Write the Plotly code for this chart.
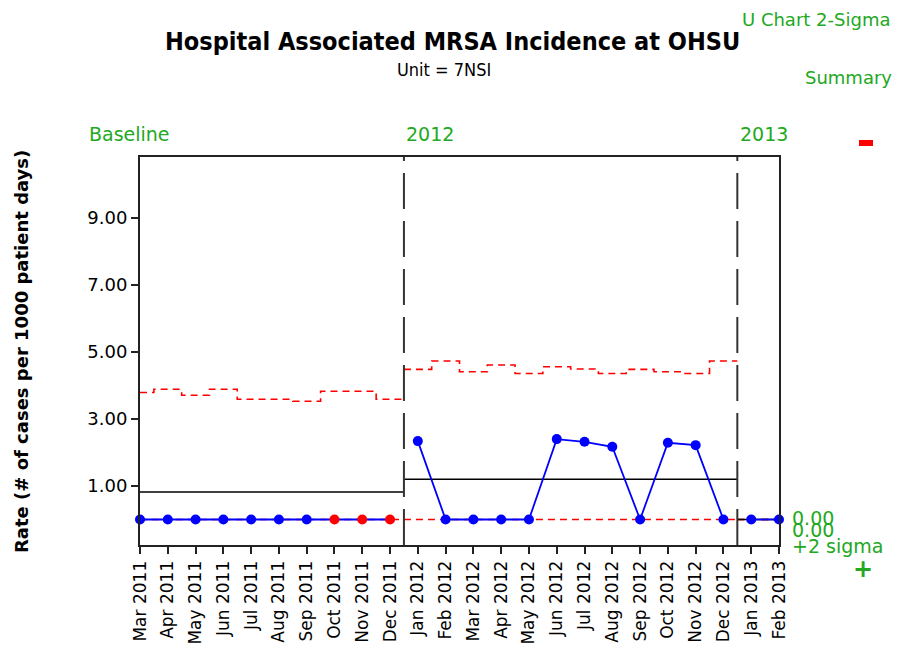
import plotly.graph_objects as go

months = ["Mar 2011", "Apr 2011", "May 2011", "Jun 2011", "Jul 2011", "Aug 2011",
          "Sep 2011", "Oct 2011", "Nov 2011", "Dec 2011",
          "Jan 2012", "Feb 2012", "Mar 2012", "Apr 2012", "May 2012", "Jun 2012",
          "Jul 2012", "Aug 2012", "Sep 2012", "Oct 2012", "Nov 2012", "Dec 2012",
          "Jan 2013", "Feb 2013"]
rates = [0, 0, 0, 0, 0, 0, 0, 0, 0, 0,
         2.34, 0, 0, 0, 0, 2.40, 2.32, 2.17, 0, 2.29, 2.22, 0,
         0, 0]
ucl = [3.79, 3.89, 3.71, 3.89, 3.59, 3.59, 3.53, 3.83, 3.83, 3.59,
       4.48, 4.73, 4.41, 4.61, 4.36, 4.56, 4.49, 4.36, 4.48, 4.41, 4.36, 4.73,
       0, 0]
lcl = [0] * 24
flagged = [False] * 7 + [True] * 3 + [False] * 14
segment_names = ["Baseline", "2012", "2013"]
segment_start = [0, 10, 22]
segment_end = [9, 21, 23]
segment_cl = [0.82, 1.20, 0.0]
y_ticks = [1, 3, 5, 7, 9]

# page has an 8px body margin; size the figure so the page does not scroll
OFF = 8
W, H = 900 - 2 * OFF, 653 - 2 * OFF
L, R, T, B = 140, 779, 157, 545          # plot area in window pixels
Y0, Y1 = -0.761, 10.82
XMAX = len(months) - 1

def px(x, y):
    return (x - L) / (R - L), (B - y) / (B - T)

fig = go.Figure()

def step_xy(i0, i1, vals):
    lo = max(i0 - 0.5, 0)
    hi = min(i1 + 0.5, XMAX)
    xs, ys = [], []
    for i in range(i0, i1 + 1):
        a = max(i - 0.5, lo)
        b = min(i + 0.5, hi)
        xs += [a, b]
        ys += [vals[i], vals[i]]
    return xs, ys

for s in range(3):
    i0, i1 = segment_start[s], segment_end[s]
    lo = max(i0 - 0.5, 0)
    hi = min(i1 + 0.5, XMAX)
    xs, ys = step_xy(i0, i1, ucl)
    fig.add_trace(go.Scatter(x=xs, y=ys, mode="lines",
                             line=dict(color="#FF0000", width=1.6, dash="7px,5px"),
                             hoverinfo="skip", showlegend=False, cliponaxis=False))
    xs, ys = step_xy(i0, i1, lcl)
    fig.add_trace(go.Scatter(x=xs, y=ys, mode="lines",
                             line=dict(color="#FF0000", width=1.6, dash="7px,5px"),
                             hoverinfo="skip", showlegend=False, cliponaxis=False))
    fig.add_trace(go.Scatter(x=[lo, hi], y=[segment_cl[s]] * 2, mode="lines",
                             line=dict(color="#000000", width=1.6),
                             hoverinfo="skip", showlegend=False, cliponaxis=False))

for s in range(3):
    i0, i1 = segment_start[s], segment_end[s]
    idx = list(range(i0, i1 + 1))
    fig.add_trace(go.Scatter(
        x=idx, y=[rates[i] for i in idx], mode="lines+markers",
        line=dict(color="#0000FF", width=1.8),
        marker=dict(size=10, color=["#FF0000" if flagged[i] else "#0000FF" for i in idx]),
        text=[months[i] for i in idx], showlegend=False, cliponaxis=False))

for s in range(1, 3):
    xb = segment_start[s] - 0.5
    fig.add_shape(type="line", x0=xb, x1=xb, y0=0, y1=1, xref="x", yref="paper",
                  line=dict(color="#333333", width=2, dash="36px,12px"))

green = "#22A822"
SANS = "DejaVu Sans, Verdana, sans-serif"
gfont = dict(family=SANS, size=19, color=green)
gfont_s = dict(family=SANS, size=18, color=green)

def ann(text, x, y, xanchor="left", font=gfont, **kw):
    ax, ay = px(x, y)
    fig.add_annotation(text=text, x=ax, y=ay, xref="paper", yref="paper",
                       xanchor=xanchor, yanchor="middle", showarrow=False,
                       font=font, **kw)

ann(segment_names[0], 87, 134)
ann(segment_names[1], 404, 134)
ann(segment_names[2], 738, 134)
ann("U Chart 2-Sigma", 740, 20, font=gfont_s)
ann("Summary", 803, 77, font=gfont_s)
ann("0.00", 790, 518)
ann("0.00", 790, 530)
ann("+2 sigma", 790, 546)
ann("<b>+</b>", 863, 569, xanchor="center",
    font=dict(family=SANS, size=24, color=green))

# red summary bar
x0, y0 = px(859, 140)
x1, y1 = px(873, 146)
fig.add_shape(type="rect", xref="paper", yref="paper", x0=x0, x1=x1, y0=y1, y1=y0,
              fillcolor="#FF0000", line=dict(width=0))

ann("<b>Hospital Associated MRSA Incidence at OHSU</b>", 452, 42, xanchor="center",
    font=dict(family="Liberation Sans Narrow, Arial Narrow, DejaVu Sans Condensed, sans-serif",
              size=25, color="#000000"))
ann("Unit = 7NSI", 444, 70, xanchor="center",
    font=dict(family="Liberation Sans Narrow, Arial Narrow, DejaVu Sans Condensed, sans-serif",
              size=18, color="#000000"))
ann("<b>Rate (# of cases per 1000 patient days)</b>", 21, 352, xanchor="center",
    font=dict(family=SANS, size=18, color="#000000"), textangle=-90)

fig.update_layout(
    width=W, height=H,
    margin=dict(l=L - OFF, r=W - (R - OFF), t=T - OFF, b=H - (B - OFF), autoexpand=False),
    paper_bgcolor="white", plot_bgcolor="white",
    font=dict(family=SANS, color="#000000"),
    showlegend=False,
)
fig.update_xaxes(range=[0, XMAX], tickmode="array", tickvals=list(range(len(months))),
                 ticktext=months, tickangle=-90, ticks="outside", ticklen=7,
                 tickwidth=2, tickcolor="#222222", showgrid=False, zeroline=False,
                 showline=True, mirror=True, linewidth=2, linecolor="#222222",
                 automargin=False,
                 tickfont=dict(size=17, family=SANS))
fig.update_yaxes(range=[Y0, Y1], tickmode="array", tickvals=y_ticks,
                 ticktext=[f"{v:.2f}" for v in y_ticks], ticks="outside", ticklen=7,
                 tickwidth=2, tickcolor="#222222", showgrid=False, zeroline=False,
                 showline=True, mirror=True, linewidth=2, linecolor="#222222",
                 automargin=False,
                 tickfont=dict(size=18, family=SANS))

fig.write_html("out.html")
